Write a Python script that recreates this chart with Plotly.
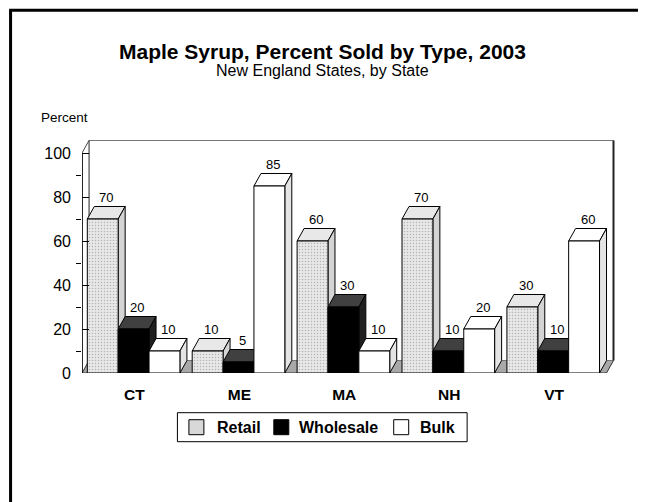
import plotly.graph_objects as go

# ---------------- data ----------------
states = ["CT", "ME", "MA", "NH", "VT"]
retail = [70, 10, 60, 70, 30]
wholesale = [20, 5, 30, 10, 10]
bulk = [10, 85, 10, 20, 60]
series_names = ["Retail", "Wholesale", "Bulk"]
y_tick_values = [0, 20, 40, 60, 80, 100]
y_minor_values = [10, 30, 50, 70, 90]
title_text = "Maple Syrup, Percent Sold by Type, 2003"
subtitle_text = "New England States, by State"
y_title_text = "Percent"

# ---------------- layout geometry ----------------
W, H = 646, 502
PAGE_OFF = 8                     # browser body margin
ML = 82 - PAGE_OFF
MT = 131.3 - PAGE_OFF
MB = H - (373.3 - PAGE_OFF)
PW = 535.5
PH = H - MT - MB
MR = W - ML - PW
XR = [-0.5, 4.6]
YR = [0, 110]
xs = PW / (XR[1] - XR[0])        # px per x unit
ys = PH / (YR[1] - YR[0])        # px per y unit
DX = 7 / xs                      # depth offset in x units
DY = 12.5 / ys                   # depth offset in y units
BW = 0.2943                      # bar width (x units)
OFF0 = -0.4495                   # offset of first bar in a group

FONT = "Liberation Sans, Arial, Helvetica, sans-serif"


def pxp(x):
    return (x - PAGE_OFF - ML) / PW


def pyp(y):
    return (H - MB - (y - PAGE_OFF)) / PH


series = [retail, wholesale, bulk]
front_cols = ["#e2e2e2", "#000000", "#ffffff"]
top_cols = ["#e8e8e8", "#404040", "#ffffff"]
side_cols = ["#d4d4d4", "#202020", "#e4e4e4"]

xi = list(range(len(states)))

fig = go.Figure()
for k, (name, vals) in enumerate(zip(series_names, series)):
    marker = dict(color=front_cols[k], line=dict(color="black", width=1))
    if k == 0:
        marker["pattern"] = dict(shape=".", fgcolor="#b4b4b4", bgcolor="#e8e8e8",
                                 size=3, solidity=0.2)
    fig.add_trace(go.Bar(x=xi, y=vals, name=name, width=BW, offset=OFF0 + k * BW,
                         marker=marker, showlegend=False, hoverinfo="skip"))


def poly(pts):
    return "M " + " L ".join(f"{a},{b}" for a, b in pts) + " Z"


shapes = []
x0, x1 = XR[0], 4.5
# floor
shapes.append(dict(type="path", xref="x", yref="y", layer="below",
                   path=poly([(x0, 0), (x1, 0), (x1 + DX, DY), (x0 + DX, DY)]),
                   fillcolor="#a8a8a8", line=dict(color="#333333", width=1)))
# back wall
shapes.append(dict(type="path", xref="x", yref="y", layer="below",
                   path=poly([(x0 + DX, DY), (x1 + DX, DY), (x1 + DX, 100 + DY), (x0 + DX, 100 + DY)]),
                   fillcolor="white", line=dict(color="#777777", width=1)))
shapes.append(dict(type="line", xref="x", yref="y", layer="below",
                   x0=x1 + DX, x1=x1 + DX, y0=DY, y1=100 + DY,
                   line=dict(color="#222222", width=2)))
# left wall
shapes.append(dict(type="path", xref="x", yref="y", layer="below",
                   path=poly([(x0, 0), (x0, 100), (x0 + DX, 100 + DY), (x0 + DX, DY)]),
                   fillcolor="white", line=dict(color="#444444", width=1)))

annotations = []
for i in xi:
    for k, vals in enumerate(series):
        h = vals[i]
        L = i + OFF0 + k * BW
        R = L + BW
        shapes.append(dict(type="path", xref="x", yref="y", layer="below",
                           path=poly([(L, h), (R, h), (R + DX, h + DY), (L + DX, h + DY)]),
                           fillcolor=top_cols[k], line=dict(color="black", width=1)))
        shapes.append(dict(type="path", xref="x", yref="y", layer="below",
                           path=poly([(R, 0), (R + DX, DY), (R + DX, h + DY), (R, h)]),
                           fillcolor=side_cols[k], line=dict(color="black", width=1)))
        annotations.append(dict(x=(L + R) / 2 + DX / 2, y=h + DY, xref="x", yref="y",
                                text=str(h), showarrow=False, yanchor="bottom",
                                yshift=0, font=dict(family=FONT, size=13, color="black")))

# front y-axis line
shapes.append(dict(type="line", xref="x", yref="y", layer="above",
                   x0=x0, x1=x0, y0=0, y1=100, line=dict(color="black", width=1.5)))

# outer frame
shapes.append(dict(type="rect", xref="paper", yref="paper", layer="above",
                   x0=pxp(10.5), x1=pxp(720), y0=pyp(10.5), y1=pyp(580),
                   line=dict(color="black", width=3), fillcolor="rgba(0,0,0,0)"))

# titles
annotations.append(dict(x=pxp(323), y=pyp(52), xref="paper", yref="paper", text="<b>" + title_text + "</b>",
                        showarrow=False, xanchor="center", yanchor="middle",
                        font=dict(family=FONT, size=21, color="black")))
annotations.append(dict(x=pxp(323), y=pyp(71), xref="paper", yref="paper", text=subtitle_text,
                        showarrow=False, xanchor="center", yanchor="middle",
                        font=dict(family=FONT, size=16, color="black")))
annotations.append(dict(x=pxp(39), y=pyp(118), xref="paper", yref="paper", text=y_title_text,
                        showarrow=False, xanchor="left", yanchor="middle",
                        font=dict(family=FONT, size=13.5, color="black")))

# manual legend
shapes.append(dict(type="rect", xref="paper", yref="paper", layer="above",
                   x0=pxp(177.5), x1=pxp(467.5), y0=pyp(413), y1=pyp(442),
                   line=dict(color="black", width=1), fillcolor="rgba(0,0,0,0)"))
sw_x = [189, 274, 394]
txt_x = [215.5, 297.5, 418]
sw_cols = ["#d8d8d8", "#000000", "#ffffff"]
for k, name in enumerate(series_names):
    shapes.append(dict(type="rect", xref="paper", yref="paper", layer="above",
                       x0=pxp(sw_x[k]), x1=pxp(sw_x[k] + 15), y0=pyp(420), y1=pyp(435),
                       line=dict(color="black", width=1), fillcolor=sw_cols[k]))
    annotations.append(dict(x=pxp(txt_x[k]), y=pyp(427.5), xref="paper", yref="paper",
                            text="<b>" + name + "</b>", showarrow=False,
                            xanchor="left", yanchor="middle",
                            font=dict(family=FONT, size=16, color="black")))

fig.update_layout(
    template="none",
    width=W, height=H,
    margin=dict(l=ML, r=MR, t=MT, b=MB, pad=0, autoexpand=False),
    paper_bgcolor="white", plot_bgcolor="white",
    barmode="overlay",
    showlegend=False,
    shapes=shapes,
    annotations=annotations,
    xaxis=dict(range=XR, showgrid=False, zeroline=False, showline=False,
               tickmode="array", tickvals=xi, ticktext=states, ticks="",
               ticklabelstandoff=10, automargin=False,
               tickfont=dict(family=FONT, size=15.5, color="black", weight="bold")),
    yaxis=dict(range=YR, showgrid=False, zeroline=False, showline=False,
               tickmode="array", tickvals=y_tick_values, ticks="inside", ticklen=7,
               tickcolor="black", tickwidth=1, automargin=False,
               ticklabelstandoff=10,
               minor=dict(tickmode="array", tickvals=y_minor_values, ticks="outside",
                          ticklen=5, tickcolor="black", tickwidth=1, showgrid=False),
               tickfont=dict(family=FONT, size=16, color="black")),
)

fig.write_html("out.html")
